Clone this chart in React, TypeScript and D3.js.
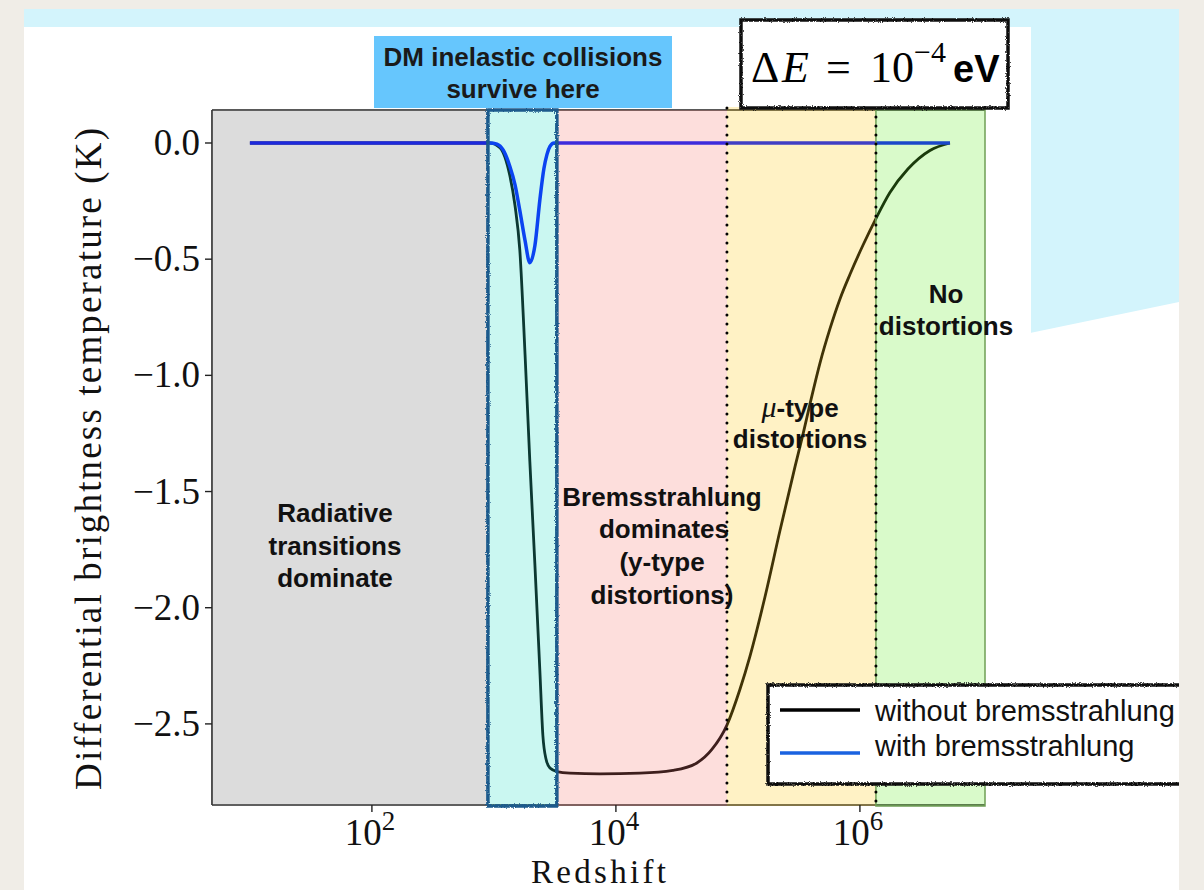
import React from "react";
import * as d3 from "d3";

// without bremsstrahlung (black)
const redshiftNoBrems = [10, 100, 500, 927, 1120, 1230, 1350, 1490, 1630, 1800, 1970, 2170, 2380, 2520, 2670, 2880, 3280, 4200, 7400, 15700, 29300, 46100, 61200, 81300, 103800, 125300, 166400, 220800, 293200, 341000, 389000, 470000, 567700, 685500, 828000, 1059000, 1353000, 1762000, 2473000, 3748000, 5470000];
const tempNoBrems = [0, 0, 0, 0, -0.02, -0.06, -0.14, -0.27, -0.46, -0.91, -1.37, -1.82, -2.27, -2.55, -2.65, -2.69, -2.705, -2.712, -2.715, -2.712, -2.7, -2.668, -2.61, -2.505, -2.352, -2.21, -1.955, -1.67, -1.395, -1.255, -1.125, -0.948, -0.8, -0.672, -0.566, -0.44, -0.325, -0.213, -0.112, -0.032, 0];

// with bremsstrahlung (blue)
const redshiftBrems = [10, 500, 927, 1060, 1190, 1350, 1490, 1630, 1800, 1970, 2170, 2380, 2570, 2720, 2880, 3110, 10000, 100000, 1000000, 5470000];
const tempBrems = [0, 0, 0, -0.005, -0.03, -0.1, -0.18, -0.29, -0.42, -0.515, -0.44, -0.245, -0.11, -0.05, -0.015, 0, 0, 0, 0, 0];

// shaded redshift regions
const regionNames = ["radiative", "dmWindow", "bremsstrahlung", "muType", "none"];
const regionStart = [0, 893, 3280, 81300, 1353000];
const regionEnd = [893, 3280, 81300, 1353000, 0];
const regionFill = ["#737373", "#2bdfc7", "#f77b73", "#ffcb17", "#67eb2b"];

const xTickValues = [1e2, 1e4, 1e6];
const xTickExponents = ["2", "4", "6"];
const yTickValues = [0, -0.5, -1, -1.5, -2, -2.5];
const yTickLabels = ["0.0", "0.5", "1.0", "1.5", "2.0", "2.5"];
const xLimits = [4.89, 1.06e7];
const yLimits = [-2.849, 0.142];
const legendLabels = ["without bremsstrahlung", "with bremsstrahlung"];

const SERIF = "'Liberation Serif', 'Times New Roman', serif";
const SANS = "'Liberation Sans', Arial, Helvetica, sans-serif";

const W = 1204;
const H = 890;
const left = 212;
const right = 985;
const top = 110;
const bottom = 805;

const x = d3.scaleLog().domain(xLimits).range([left, right]);
const y = d3.scaleLinear().domain(yLimits).range([bottom, top]);

const line = d3
  .line<[number, number]>()
  .x((d) => x(d[0]))
  .y((d) => y(d[1]))
  .curve(d3.curveMonotoneX);

const blackPts = redshiftNoBrems.map((z, i) => [z, tempNoBrems[i]] as [number, number]);
const bluePts = redshiftBrems.map((z, i) => [z, tempBrems[i]] as [number, number]);

const App = () => {
  const regionX = (i: number) => {
    const x0 = i === 0 ? left : x(regionStart[i]);
    const x1 = i === regionNames.length - 1 ? right : x(regionEnd[i]);
    return [x0, x1];
  };
  const dmBox = regionX(1);

  return (
    <svg
      width={W}
      height={H}
      style={{ position: "absolute", left: 0, top: 0, display: "block" }}
    >
      <defs>
        <filter id="rough" filterUnits="userSpaceOnUse" x="0" y="0" width={W} height={H}>
          <feTurbulence type="fractalNoise" baseFrequency="0.9" numOctaves="2" seed="3" result="n" />
          <feDisplacementMap in="SourceGraphic" in2="n" scale="3" xChannelSelector="R" yChannelSelector="G" />
        </filter>
        <clipPath id="plotClip">
          <rect x={left} y={top} width={right - left} height={bottom - top} />
        </clipPath>
      </defs>

      {/* slide background */}
      <rect x={0} y={0} width={W} height={H} fill="#f0ede7" />
      <rect x={24} y={9} width={1155} height={330} fill="#d3f4fc" />
      <rect x={24} y={27} width={1007} height={H - 27} fill="#ffffff" />
      <polygon points={`1030,333 1179,302 1179,${H} 1030,${H}`} fill="#ffffff" />

      {/* curves */}
      <g clipPath="url(#plotClip)">
        <path d={line(blackPts) || ""} fill="none" stroke="#000" strokeWidth={2.8} />
        <path d={line(bluePts) || ""} fill="none" stroke="#0010ff" strokeWidth={3.5} />
      </g>

      {/* spines */}
      <line x1={left} x2={left} y1={top} y2={bottom} stroke="#222" strokeWidth={1.6} />
      <line x1={left} x2={right} y1={bottom} y2={bottom} stroke="#222" strokeWidth={1.6} />
      <line x1={left} x2={right} y1={top} y2={top} stroke="#222" strokeWidth={1.6} />

      {/* shaded regions */}
      {regionNames.map((name, i) => {
        const [x0, x1] = regionX(i);
        const ext = i >= 3 ? 3 : 0;
        return (
          <rect
            key={name}
            x={x0}
            y={top - ext}
            width={x1 - x0}
            height={bottom - top + ext + 1}
            fill={regionFill[i]}
            fillOpacity={0.25}
            stroke={i === 4 ? "#6f9f55" : "none"}
            strokeWidth={i === 4 ? 1.5 : 0}
          />
        );
      })}

      {/* rough frame of DM window */}
      <rect
        x={dmBox[0]}
        y={top}
        width={dmBox[1] - dmBox[0]}
        height={bottom - top + 1}
        fill="none"
        stroke="#1a5a8c"
        strokeWidth={3.5}
        filter="url(#rough)"
      />

      {/* dotted boundaries */}
      {[regionStart[3], regionStart[4]].map((z) => (
        <line
          key={z}
          x1={x(z)}
          x2={x(z)}
          y1={top - 2}
          y2={bottom}
          stroke="#000"
          strokeWidth={3}
          strokeDasharray="0 9"
          strokeLinecap="round"
        />
      ))}

      {/* y axis */}
      {yTickValues.map((v, i) => (
        <g key={v}>
          <line x1={left - 7} x2={left} y1={y(v)} y2={y(v)} stroke="#222" strokeWidth={1.4} />
          <text
            x={200}
            y={y(v) + 12}
            textAnchor="end"
            fontFamily={SERIF}
            fontSize={37}
            fill="#111"
          >
            {v < 0 ? "−" + yTickLabels[i] : yTickLabels[i]}
          </text>
        </g>
      ))}

      {/* x axis */}
      {xTickValues.map((v, i) => (
        <g key={v}>
          <line x1={x(v)} x2={x(v)} y1={bottom} y2={bottom + 7} stroke="#222" strokeWidth={1.4} />
          <text x={x(v) - 2} y={845} textAnchor="middle" fontFamily={SERIF} fontSize={37} fill="#111">
            10
            <tspan fontSize={27} dy={-15}>
              {xTickExponents[i]}
            </tspan>
          </text>
        </g>
      ))}

      {/* axis titles */}
      <text
        x={(left + right) / 2}
        y={882.5}
        textAnchor="middle"
        fontFamily={SERIF}
        fontSize={33}
        fill="#111"
        textLength={135}
        lengthAdjust="spacing"
      >
        Redshift
      </text>
      <text
        transform={`translate(101, ${(128 + 790) / 2}) rotate(-90)`}
        textAnchor="middle"
        fontFamily={SERIF}
        fontSize={37}
        fill="#111"
        textLength={662}
        lengthAdjust="spacing"
      >
        Differential brightness temperature (K)
      </text>

      {/* region annotations */}
      <g fontFamily={SANS} fontWeight="bold" fontSize={26} fill="#111" textAnchor="middle">
        <text x={335} y={522}>Radiative</text>
        <text x={335} y={555}>transitions</text>
        <text x={335} y={587}>dominate</text>

        <text x={662} y={506}>Bremsstrahlung</text>
        <text x={664} y={538}>dominates</text>
        <text x={662} y={571}>(y-type</text>
        <text x={662} y={604}>distortions)</text>

        <text x={800} y={417}>
          <tspan fontFamily={SERIF} fontStyle="italic" fontWeight="normal" fontSize={30}>μ</tspan>
          <tspan>-type</tspan>
        </text>
        <text x={800} y={448}>distortions</text>

        <text x={946} y={303}>No</text>
        <text x={946} y={335}>distortions</text>
      </g>

      {/* DM label box */}
      <rect x={374} y={36} width={298} height={72} fill="#66c6fd" />
      <g fontFamily={SANS} fontWeight="bold" fontSize={26} fill="#1a1a1a" textAnchor="middle">
        <text x={523} y={66}>DM inelastic collisions</text>
        <text x={523} y={98}>survive here</text>
      </g>

      {/* Delta E box */}
      <rect x={741} y={20} width={267} height={88} fill="#fff" stroke="#111" strokeWidth={3.5} filter="url(#rough)" />
      <g fill="#000">
        <text x={751} y={82} fontFamily={SERIF} fontSize={44}>Δ</text>
        <text x={782} y={82} fontFamily={SERIF} fontSize={44} fontStyle="italic">E</text>
        <text x={826} y={82} fontFamily={SERIF} fontSize={44}>=</text>
        <text x={870} y={82} fontFamily={SERIF} fontSize={44}>10</text>
        <text x={914} y={62} fontFamily={SERIF} fontSize={30}>−4</text>
        <text x={953} y={82} fontFamily={SANS} fontWeight="bold" fontSize={38}>eV</text>
      </g>

      {/* legend */}
      <rect x={768} y={685} width={425} height={99} fill="#fff" stroke="#111" strokeWidth={3.5} filter="url(#rough)" />
      {legendLabels.map((label, i) => (
        <g key={label}>
          <line
            x1={780}
            x2={860}
            y1={710 + i * 43}
            y2={710 + i * 43}
            stroke={i === 0 ? "#000" : "#1a62e0"}
            strokeWidth={3.5}
          />
          <text x={875} y={721 + i * 35} fontFamily={SANS} fontSize={29} fill="#111">
            {label}
          </text>
        </g>
      ))}

      {/* right paper margin */}
      <rect x={1179} y={0} width={W - 1179} height={H} fill="#f0ede7" />
    </svg>
  );
};

export default App;
